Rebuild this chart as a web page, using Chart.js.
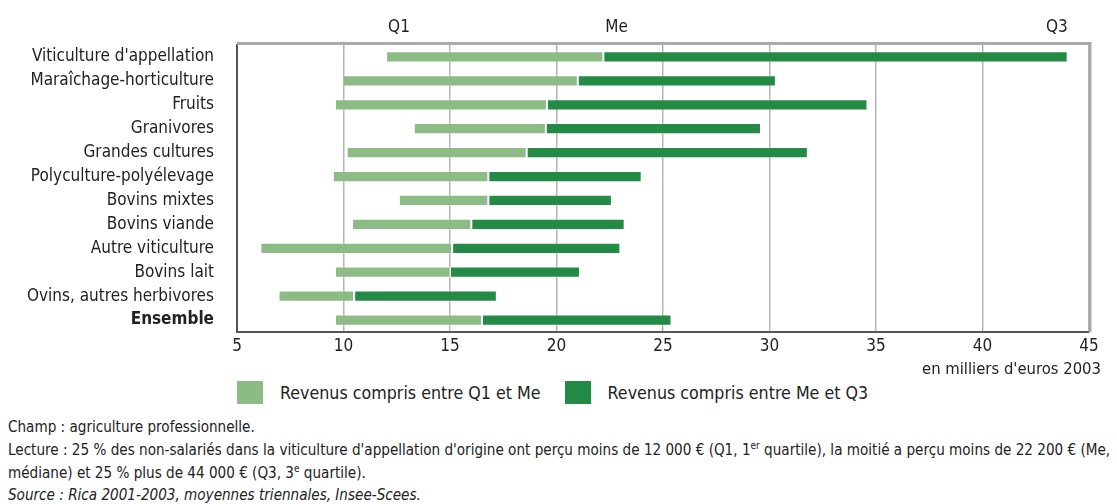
<!DOCTYPE html>
<html lang="fr">
<head>
<meta charset="utf-8">
<title>Revenus par orientation</title>
<script src="https://cdn.jsdelivr.net/npm/chart.js@4.4.1/dist/chart.umd.min.js"></script>
<style>
  body { margin: 0; background: #fff; width: 1117px; height: 504px; overflow: hidden;
         font-family: "Liberation Sans Narrow", "DejaVu Sans Condensed", "Roboto", sans-serif; color: #222; }
  #wrap { position: absolute; left: 0; top: 0; width: 1117px; height: 380px; }
  #leyenda { position: absolute; left: 237px; top: 381px; display: flex; align-items: center; font-size: 17.7px; white-space: nowrap; }
  #leyenda .item { display: flex; align-items: center; margin-right: 24px; }
  #leyenda .caja { width: 26px; height: 23px; margin-right: 17px; }
  #notes { position: absolute; left: 8px; top: 416px; font-size: 15.1px; line-height: 22.8px; white-space: nowrap; }
  #notes sup { font-size: 10px; line-height: 0; }
</style>
</head>
<body>
<div id="wrap"><canvas id="myChart"></canvas></div>
<div id="leyenda"></div>
<div id="notes">
  <div>Champ : agriculture professionnelle.</div>
  <div>Lecture : 25 % des non-salariés dans la viticulture d'appellation d'origine ont perçu moins de 12 000 € (Q1, 1<sup>er</sup> quartile), la moitié a perçu moins de 22 200 € (Me,</div>
  <div>médiane) et 25 % plus de 44 000 € (Q3, 3<sup>e</sup> quartile).</div>
  <div><i>Source : Rica 2001-2003, moyennes triennales, Insee-Scees.</i></div>
</div>
<script>
// Datos (miles de euros 2003)
const categorias = [
  "Viticulture d'appellation", "Maraîchage-horticulture", "Fruits", "Granivores",
  "Grandes cultures", "Polyculture-polyélevage", "Bovins mixtes", "Bovins viande",
  "Autre viticulture", "Bovins lait", "Ovins, autres herbivores", "Ensemble"
];
const q1 = [12, 9.95, 9.6, 13.3, 10.15, 9.5, 12.6, 10.4, 6.1, 9.6, 6.95, 9.6];
const me = [22.2, 21, 19.55, 19.5, 18.6, 16.8, 16.8, 16, 15.1, 15, 10.5, 16.5];
const q3 = [44, 30.3, 34.6, 29.6, 31.8, 24, 22.6, 23.2, 23, 21.1, 17.2, 25.4];
const nombresSeries = ["Revenus compris entre Q1 et Me", "Revenus compris entre Me et Q3"];
const etiquetasArriba = ["Q1", "Me", "Q3"];
const ejeMin = 5, ejeMax = 45, ejePaso = 5;
const tituloEje = "en milliers d'euros 2003";

const FUENTE = '"Liberation Sans Narrow", "DejaVu Sans Condensed", "Roboto", sans-serif';
const colorClaro = '#8dbb86';
const colorOscuro = '#238b46';

// Marco superior/derecho, etiquetas Q1 / Me / Q3 y título del eje
const marcoPlugin = {
  id: 'marco',
  afterDatasetsDraw(chart) {
    const ctx = chart.ctx;
    const area = chart.chartArea;
    const x = chart.scales.x;
    ctx.save();
    ctx.strokeStyle = '#aaaaaa';
    ctx.lineWidth = 3;
    ctx.beginPath();
    ctx.moveTo(area.left, area.top - 1.5);
    ctx.lineTo(area.right + 1, area.top - 1.5);
    ctx.lineTo(area.right + 1, area.bottom);
    ctx.stroke();

    ctx.fillStyle = '#222';
    ctx.font = '17px ' + FUENTE;
    ctx.textBaseline = 'middle';
    const valores = [q1[0], me[0], q3[0]];
    const alineacion = ['left', 'left', 'right'];
    etiquetasArriba.forEach(function (txt, i) {
      ctx.textAlign = alineacion[i];
      ctx.fillText(txt, x.getPixelForValue(valores[i]) + (i < 2 ? 2 : 0), area.top - 17);
    });

    // título del eje x
    ctx.font = '16.5px ' + FUENTE;
    ctx.textAlign = 'right';
    ctx.fillText(tituloEje, area.right + 12, area.bottom + 38);
    ctx.restore();
  }
};

var grafico = new Chart('myChart', {
  type: 'bar',
  data: {
    labels: categorias,
    datasets: [{
      label: nombresSeries[0],
      data: categorias.map((c, i) => [q1[i], me[i]]),
      backgroundColor: colorClaro,
      borderColor: 'rgba(255,255,255,0.35)',
      borderWidth: 1,
      borderSkipped: false,
      grouped: false,
      barPercentage: 0.47,
      categoryPercentage: 1
    }, {
      label: nombresSeries[1],
      data: categorias.map((c, i) => [me[i], q3[i]]),
      backgroundColor: colorOscuro,
      borderColor: 'rgba(255,255,255,0.35)',
      borderWidth: 1,
      borderSkipped: false,
      grouped: false,
      barPercentage: 0.47,
      categoryPercentage: 1
    }]
  },
  options: {
    indexAxis: 'y',
    responsive: true,
    maintainAspectRatio: false,
    animation: false,
    layout: { padding: { top: 45, right: 28, left: 0, bottom: 2 } },
    plugins: {
      legend: { display: false },
      tooltip: { enabled: false }
    },
    scales: {
      x: {
        min: ejeMin,
        max: ejeMax,
        ticks: { stepSize: ejePaso, color: '#222', padding: 4, font: { family: FUENTE, size: 17 } },
        grid: { color: '#b5b5b5', lineWidth: 1.5, drawTicks: false },
        border: { color: '#555', width: 2 },
        afterFit(scale) { scale.height = 46; }
      },
      y: {
        ticks: {
          color: '#222',
          padding: 23,
          autoSkip: false,
          font: (ctx) => ({ family: FUENTE, size: 17, weight: ctx.index === categorias.length - 1 ? 'bold' : 'normal' })
        },
        grid: { display: false, drawTicks: false },
        border: { color: '#555', width: 2 },
        afterFit(scale) { scale.width = 237; }
      }
    }
  },
  plugins: [marcoPlugin]
});

// Leyenda en HTML a partir de los datasets
var leyenda = document.getElementById('leyenda');
grafico.data.datasets.forEach(function (ds) {
  var item = document.createElement('div');
  item.className = 'item';
  var caja = document.createElement('span');
  caja.className = 'caja';
  caja.style.background = ds.backgroundColor;
  var texto = document.createElement('span');
  texto.textContent = ds.label;
  item.appendChild(caja);
  item.appendChild(texto);
  leyenda.appendChild(item);
});
</script>
</body>
</html>
